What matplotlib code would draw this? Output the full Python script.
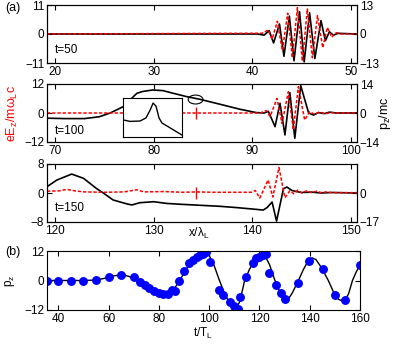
import matplotlib
matplotlib.use('Agg')
import matplotlib.pyplot as plt
from matplotlib.patches import Ellipse

plt.rcParams['font.family'] = ['Liberation Sans', 'DejaVu Sans']
plt.rcParams['font.size'] = 8.5
plt.rcParams['mathtext.default'] = 'regular'

# ---- panel (a), t=50 ----
x50_p = [19.2, 40.5, 41.2, 41.7, 42.15, 42.75, 43.2, 43.75, 44.22, 44.78, 45.25, 45.8, 46.33, 46.95, 47.4, 47.8, 48.2, 48.7, 50.6]
p50 = [0, 0, -0.5, 1.5, -4, 4.5, -10, 8, -12, 10, -12.5, 9.5, -11, 6, -3, 1, -0.5, 0.3, 0]
x50_e = [19.2, 41.0, 41.6, 42.0, 42.53, 43.04, 43.58, 44.05, 44.56, 45.07, 45.57, 46.08, 46.6, 47.13, 47.6, 48.04, 48.5, 49.0, 50.6]
e50 = [0, 0.3, 1.5, -2, 4.8, -6.3, 7.9, -9, 10, -10.3, 9.5, -9, 7, -5.2, 2.5, -1.2, 0.5, 0, 0]

# ---- t=100 ----
x100_p = [69.2, 71, 73, 74.5, 75.6, 76.9, 78.3, 78.9, 79.9, 80.95, 82, 83.35, 84.7, 87.0, 88.75, 90.4, 91.2, 91.62,
          92.3, 92.8, 93.3, 93.8, 94.3, 94.9, 95.7, 96.2, 96.7, 97.3, 97.8, 98.5, 100.6]
p100 = [-2.5, -2.7, -2.7, -1.8, 0, 3, 9.5, 10.4, 11.1, 10.8, 9.5, 7.9, 6.6, 3.9, 1.8, 0.2, 0, 0.8,
        -6.6, 4.7, -10.6, 9.8, -12.2, 13.2, 0, -1, 0.2, -0.3, 0.4, 0, 0]
x100_e = [69.2, 84.3, 90.8, 91.4, 91.8, 92.5, 93.0, 93.65, 94.15, 94.66, 95.3, 95.8, 96.3, 96.8, 97.4, 98.0, 98.6, 100.6]
e100 = [0, 0, 0, 1, -1.4, 6, -4.3, 8.8, -7, 10.9, -2.9, 0.5, -0.5, 0.4, -0.3, 0.2, 0, 0]
mark100 = 84.3

# inset (zoom of the spike), in inset box units
ins_x = [0, 0.12, 0.29, 0.39, 0.46, 0.51, 0.56, 0.61, 0.66, 1.0]
ins_y = [0.44, 0.40, 0.41, 0.49, 0.69, 0.87, 0.79, 0.49, 0.36, 0.05]

# ---- t=150 ----
x150_p = [119.2, 120.2, 121.7, 122.9, 124.2, 124.9, 125.9, 127.3, 127.8, 128.6, 130.0, 131.3, 132.7, 134.7, 136.7,
          138.5, 140.4, 141.1, 141.5, 142.0, 142.45, 143.15, 143.5, 144.0, 144.5, 145.0, 146.0, 147.0, 148.0, 150.6]
p150 = [3.7, 7.6, 11.1, 8.6, 2.7, 0, -4.1, -6.4, -7, -5.7, -5.1, -6.1, -6.6, -7.2, -7.8,
        -8.6, -9.6, -10, -8.5, -5.3, -16.5, 2.5, 3.5, 1.5, 0.8, 0.3, 0.5, 0, 0.3, 0]
x150_e = [119.2, 120.5, 121.2, 122, 123, 125, 127, 128.3, 129, 131, 133, 134.3, 136, 138, 139.9, 140.3, 140.75,
          141.6, 142.07, 142.7, 143.3, 143.8, 144.2, 144.6, 145.0, 145.5, 146, 146.5, 147, 147.5, 148, 150.6]
e150 = [0.5, 0.6, 1.0, 0.6, 0.3, 0.2, 0.3, 0.9, 0.3, 0.4, 0.2, 0.3, 0.2, 0.2, 0.2, 0.7, -1.4,
        3.6, -1.1, 7.0, -1.3, 0.6, -0.2, 0.8, 0.0, 0.6, 0.1, 0.5, 0.1, 0.3, 0.1, 0.1]
mark150 = 134.3

# ---- panel (b) ----
tb = [35.5, 40, 45, 50, 55, 58, 61, 64, 66, 68, 70, 72, 74, 76, 78, 80, 82, 84, 86, 88, 90, 92, 94, 96, 98, 100,
      102, 104, 106, 108, 110, 111, 112, 113, 114, 116, 118, 120, 121, 122.5, 124, 126, 128, 129.5, 130.5, 131.5,
      133, 135.5, 137.5, 139.5, 141, 142.5, 144.5, 147.4, 149.5, 151.5, 153, 154.2, 155.5, 157, 158.5, 160]
pb = [0, 0, 0, 0, 0.2, 0.8, 1.7, 2.2, 2.2, 1.7, 0.8, -0.5, -2, -3.4, -4.5, -5.2, -5.6, -5.1, -3.5, -0.5, 3, 6.5,
      9.2, 10.9, 11.5, 10.2, 6, 0.3, -5, -9, -10.8, -10.6, -9, -5, -0.5, 4.5, 8, 10.3, 10.4, 9.5, 6.5, 0.5, -4.5,
      -7.3, -7.9, -7.5, -5.2, 0, 4.5, 8.2, 9.2, 8.5, 5.5, 0, -4.8, -7.7, -8.3, -7.8, -5.3, 0, 3.5, 6.3]
tm = [35.5, 40, 45, 50, 55, 60.3, 65, 70.3, 72.6, 74.3, 75.9, 77.9, 79.9, 81.8, 83.8, 85.3, 86.6, 88.1, 90.1,
      91.8, 93.5, 95.1, 96.4, 97.7, 98.7, 100.4, 104.1, 105.7, 108.1, 109.7, 111.3, 112.3, 114.6, 117.3, 118.6,
      119.9, 121.6, 122.5, 124, 126.7, 128.4, 130.3, 135.2, 139.8, 145.3, 150, 154, 160]
pm = [0, 0, 0, -0.2, 0.2, 1.6, 2.3, 1.4, -0.5, -1.8, -3.2, -4.1, -4.9, -5.5, -5.3, -4.0, -4.1, -0.3, 4, 7, 8.3,
      9.4, 10.4, 10.8, 11.7, 7.4, -3.9, -5.9, -8.9, -10.2, -11.4, -6.6, 1.5, 7, 9, 9.7, 10.4, 10.8, 2.9, -1.8,
      -5.2, -7.7, -0.9, 8.1, 4.5, -5.9, -7.9, 6.3]

RED = '#ff0000'
W, H = 396, 346
fig = plt.figure(figsize=(W / 100, H / 100), dpi=100)


def box(l, t, r, b):
    return [l / W, (H - b) / H, (r - l) / W, (b - t) / H]


def field_panel(rect, xe, ye, xp, yp, xlim, xt, el, pl, pticks, label, ly, mark=None):
    ax = fig.add_axes(rect)
    axr = ax.twinx()
    axr.plot(xp, yp, color='k', lw=1.2, solid_joinstyle='round')
    ax.plot(xe, ye, color=RED, lw=1.1, dashes=(2.2, 1.2))
    if mark is not None:
        ax.plot([mark], [0], marker='|', ms=8, mew=1.0, color=RED)
    ax.set_zorder(axr.get_zorder() + 1)
    ax.patch.set_visible(False)
    ax.set_xlim(xlim)
    ax.set_xticks(xt)
    ax.set_ylim(-el, el)
    ax.set_yticks([-el, 0, el])
    axr.set_ylim(-pl, pl)
    axr.set_yticks(pticks)
    ax.tick_params(direction='in', length=3.5, top=True, pad=2)
    axr.tick_params(direction='in', length=3.5, pad=2)
    ax.text(0.025, ly, label, transform=ax.transAxes, va='center', ha='left')
    return ax, axr


ax1, ax1r = field_panel(box(47, 5, 357, 63), x50_e, e50, x50_p, p50, (19.2, 50.6), [20, 30, 40, 50],
                        11, 13, [-13, 0, 13], 't=50', 0.22)
ax2, ax2r = field_panel(box(47, 84, 357, 142), x100_e, e100, x100_p, p100, (69.2, 100.6), [70, 80, 90, 100],
                        12, 14, [-14, 0, 14], 't=100', 0.19, mark100)
ax3, ax3r = field_panel(box(47, 164, 357, 222), x150_e, e150, x150_p, p150, (119.2, 150.6),
                        [120, 130, 140, 150], 8, 17, [-17, 0], 't=150', 0.24, mark150)

ax2r.add_patch(Ellipse((84.25, 6.5), 1.5, 4.3, fill=False, ec='k', lw=0.8))

ins = fig.add_axes(box(123, 98, 182, 137))
ins.plot(ins_x, ins_y, color='k', lw=1.0)
ins.set_xlim(0, 1)
ins.set_ylim(0, 1)
ins.set_xticks([])
ins.set_yticks([])
ins.set_zorder(10)

ax3.set_xlabel('x/λ$_L$')
ax3.xaxis.set_label_coords(0.49, -0.07)

fig.text(12 / W, (H - 113) / H, 'eE$_z$/mω$_L$c', color=RED, rotation=90, ha='center', va='center', fontsize=9)
fig.text(385 / W, (H - 113) / H, 'p$_z$/mc', rotation=90, ha='center', va='center', fontsize=9)
fig.text(5 / W, (H - 8) / H, '(a)', ha='left', va='center', fontsize=9)
fig.text(5 / W, (H - 252) / H, '(b)', ha='left', va='center', fontsize=9)

# panel (b)
axb = fig.add_axes(box(47, 251, 360, 310))
axb.plot(tb, pb, color='k', lw=1.0)
axb.plot(tm, pm, 'o', color='#0000ff', ms=5.4, mec='#0000ff')
axb.set_xlim(35.5, 160)
axb.set_ylim(-12, 12)
axb.set_xticks([40, 60, 80, 100, 120, 140, 160])
axb.set_yticks([-12, 0, 12])
axb.tick_params(direction='in', length=3.5, top=True, right=True, pad=2)
axb.set_xlabel('t/T$_L$', labelpad=1)
axb.set_ylabel('p$_z$', labelpad=5)

fig.savefig('out.png', dpi=100)
